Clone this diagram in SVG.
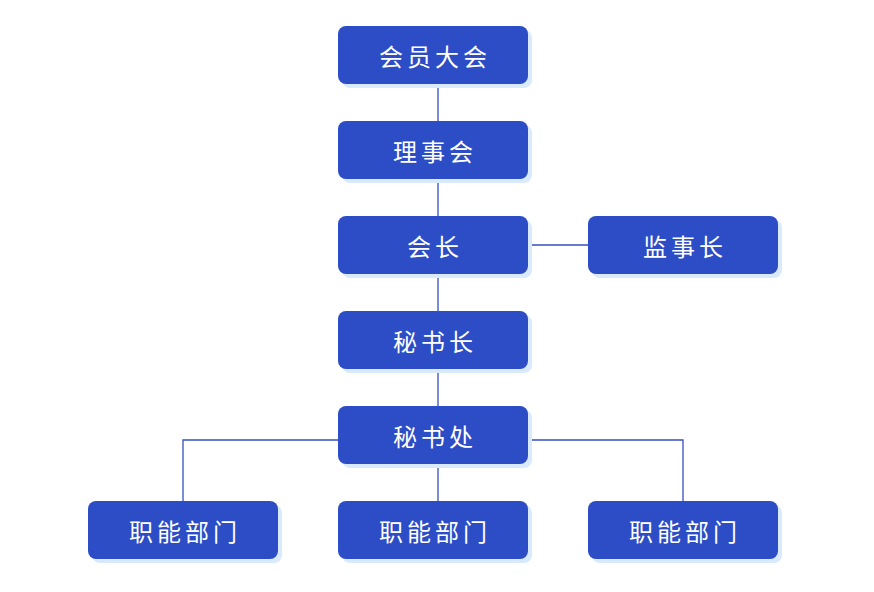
<svg xmlns="http://www.w3.org/2000/svg" width="874" height="592" viewBox="0 0 874 592">
<style>
.sh{fill:#d8eafc}
.bx{fill:#2c4dc6}
.t{fill:#ffffff;font-family:"Noto Sans CJK SC","Noto Sans",sans-serif;font-size:24px;letter-spacing:4px;text-anchor:middle;dominant-baseline:central}
.c{stroke:#3550c0;stroke-width:1.3;fill:none}
</style>
<rect width="874" height="592" fill="#ffffff"/>
<g id="connectors">
<line class="c" x1="438" y1="84" x2="438" y2="121"/>
<line class="c" x1="438" y1="179" x2="438" y2="216"/>
<line class="c" x1="528" y1="245" x2="588" y2="245"/>
<line class="c" x1="438" y1="274" x2="438" y2="311"/>
<line class="c" x1="438" y1="369" x2="438" y2="406"/>
<line class="c" x1="438" y1="464" x2="438" y2="501"/>
<polyline class="c" points="338,440 183,440 183,501"/>
<polyline class="c" points="528,440 683,440 683,501"/>
</g>
<g id="n1"><rect class="sh" x="342" y="30" width="190" height="58" rx="8"/><rect class="bx" x="338" y="26" width="190" height="58" rx="8"/><text class="t" x="435" y="55">会员大会</text></g>
<g id="n2"><rect class="sh" x="342" y="125" width="190" height="58" rx="8"/><rect class="bx" x="338" y="121" width="190" height="58" rx="8"/><text class="t" x="435" y="150">理事会</text></g>
<g id="n3"><rect class="sh" x="342" y="220" width="190" height="58" rx="8"/><rect class="bx" x="338" y="216" width="190" height="58" rx="8"/><text class="t" x="435" y="245">会长</text></g>
<g id="n4"><rect class="sh" x="592" y="220" width="190" height="58" rx="8"/><rect class="bx" x="588" y="216" width="190" height="58" rx="8"/><text class="t" x="685" y="245">监事长</text></g>
<g id="n5"><rect class="sh" x="342" y="315" width="190" height="58" rx="8"/><rect class="bx" x="338" y="311" width="190" height="58" rx="8"/><text class="t" x="435" y="340">秘书长</text></g>
<g id="n6"><rect class="sh" x="342" y="410" width="190" height="58" rx="8"/><rect class="bx" x="338" y="406" width="190" height="58" rx="8"/><text class="t" x="435" y="435">秘书处</text></g>
<g id="n7"><rect class="sh" x="92" y="505" width="190" height="58" rx="8"/><rect class="bx" x="88" y="501" width="190" height="58" rx="8"/><text class="t" x="185" y="530">职能部门</text></g>
<g id="n8"><rect class="sh" x="342" y="505" width="190" height="58" rx="8"/><rect class="bx" x="338" y="501" width="190" height="58" rx="8"/><text class="t" x="435" y="530">职能部门</text></g>
<g id="n9"><rect class="sh" x="592" y="505" width="190" height="58" rx="8"/><rect class="bx" x="588" y="501" width="190" height="58" rx="8"/><text class="t" x="685" y="530">职能部门</text></g>
</svg>
